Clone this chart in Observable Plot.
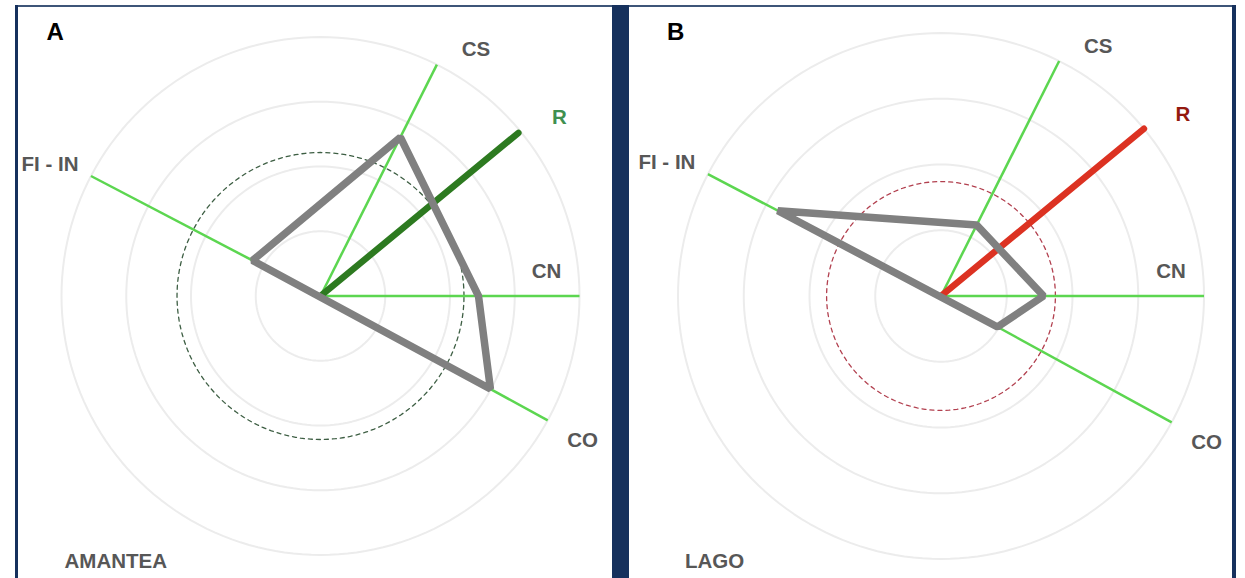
<!DOCTYPE html>
<html>
<head>
<meta charset="utf-8">
<script src="https://cdn.jsdelivr.net/npm/d3@7"></script>
<script src="https://cdn.jsdelivr.net/npm/@observablehq/plot@0.6"></script>
<style>
  html, body { margin: 0; padding: 0; background: #fff; }
  #wrap { position: relative; width: 1245px; height: 578px; overflow: hidden; background: #fff; }
  .panel { position: absolute; top: 0; }
  .bar { position: absolute; background: #16315d; }
</style>
</head>
<body>
<div id="wrap">
  <div class="bar" style="left:16px;top:5px;width:1220px;height:2px;background:#3e5578"></div>
  <div class="bar" style="left:15px;top:5px;width:3px;height:573px;"></div>
  <div class="bar" style="left:612px;top:5px;width:17px;height:573px;"></div>
  <div class="bar" style="left:1232px;top:5px;width:4px;height:573px;"></div>
</div>
<script>
// ---- data ----
const sites = ["AMANTEA", "LAGO"];
const panelLetters = ["A", "B"];
const axisNames = ["CS", "CN", "CO", "FI - IN"];
const axisAngles = [63.3, 0, -28.7, 152.4];        // degrees, counter-clockwise from east
const amanteaValues = [68.6, 61, 74.8, 29.6];
const lagoValues = [30.2, 39, 24.5, 70];
const resultantName = "R";
const resultantAngles = [39.5, 39.5];
const resultantValues = [99, 100];
const dashedCircleValues = [55.4, 43.5];
const ringValues = [25, 50, 75, 100];
const axisMax = 100;

// ---- layout (code only) ----
const layout = [
  {left: 18, width: 594, cx: 320, cy: 295.5, r: 259, rColor: "#2d7a20", rLabel: "#3f9050", dash: "#3d5e43"},
  {left: 629, width: 603, cx: 940.5, cy: 295.5, r: 263, rColor: "#dc3222", rLabel: "#93190f", dash: "#b2404f"}
];
const labelOffsets = { // pixel offsets from the axis end
  "CS": [39, -15], "R": [39, -14], "FI - IN": [-41, -12], "CN": [-33, -25], "CO": [35, 20]
};
const FONT = "Liberation Sans, Arial, Helvetica, sans-serif";
const rad = d => d * Math.PI / 180;
const polar = (v, a) => ({x: v * Math.cos(rad(a)), y: v * Math.sin(rad(a))});

function circlePts(value, key) {
  return d3.range(0, 361, 2).map(a => ({key, ...polar(value, a)}));
}

const seriesValues = [amanteaValues, lagoValues];

sites.forEach((site, i) => {
  const L = layout[i];
  const k = axisMax / L.r; // data units per pixel
  const lcx = L.cx - L.left;

  const rings = ringValues.flatMap(v => circlePts(v, v));
  const dashed = circlePts(dashedCircleValues[i], "d");
  const spokes = axisNames.map((n, j) => ({name: n, ...polar(axisMax, axisAngles[j])}));
  const poly = axisNames.map((n, j) => ({name: n, ...polar(seriesValues[i][j], axisAngles[j])}));
  const res = [{name: resultantName, ...polar(resultantValues[i], resultantAngles[i])}];

  const labelData = [...axisNames.map((n, j) => ({name: n, angle: axisAngles[j]})),
                     {name: resultantName, angle: resultantAngles[i]}]
    .map(d => {
      const p = polar(axisMax, d.angle);
      const o = labelOffsets[d.name];
      return {name: d.name, x: p.x + o[0] * k, y: p.y - o[1] * k};
    });
  const axisLabels = labelData.filter(d => d.name !== resultantName);
  const rLabels = labelData.filter(d => d.name === resultantName);

  const chart = Plot.plot({
    width: L.width,
    height: 578,
    margin: 0,
    style: {background: "transparent", fontFamily: FONT, overflow: "visible"},
    x: {domain: [-axisMax, axisMax], range: [lcx - L.r, lcx + L.r], axis: null},
    y: {domain: [-axisMax, axisMax], range: [L.cy + L.r, L.cy - L.r], axis: null},
    marks: [
      Plot.line(rings, {x: "x", y: "y", z: "key", stroke: "#ececec", strokeWidth: 2}),
      Plot.line(dashed, {x: "x", y: "y", stroke: L.dash, strokeWidth: 1.3, strokeDasharray: "4,4"}),
      Plot.link(spokes, {x1: 0, y1: 0, x2: "x", y2: "y", stroke: "#5cd650", strokeWidth: 2.5}),
      Plot.link(res, {x1: 0, y1: 0, x2: "x", y2: "y", stroke: L.rColor, strokeWidth: 6.5, strokeLinecap: "round"}),
      Plot.line(poly, {x: "x", y: "y", curve: "linear-closed", stroke: "#808080", strokeWidth: 7.5, strokeLinejoin: "miter"}),
      Plot.text(axisLabels, {x: "x", y: "y", text: "name", fill: "#575757", fontSize: 20.5, fontWeight: "bold", fontFamily: FONT}),
      Plot.text(rLabels, {x: "x", y: "y", text: "name", fill: L.rLabel, fontSize: 20.5, fontWeight: "bold", fontFamily: FONT}),
      Plot.text([panelLetters[i]], {x: -274 * k, y: 264 * k, text: d => d, textAnchor: "start", fill: "#000", fontSize: 24, fontWeight: "bold", fontFamily: FONT}),
      Plot.text([site], {x: -256 * k, y: -265.5 * k, text: d => d, textAnchor: "start", fill: "#575757", fontSize: 20.5, fontWeight: "bold", fontFamily: FONT})
    ]
  });
  const holder = document.createElement("div");
  holder.className = "panel";
  holder.style.left = L.left + "px";
  holder.style.width = L.width + "px";
  holder.appendChild(chart);
  document.getElementById("wrap").appendChild(holder);
});
</script>
</body>
</html>
